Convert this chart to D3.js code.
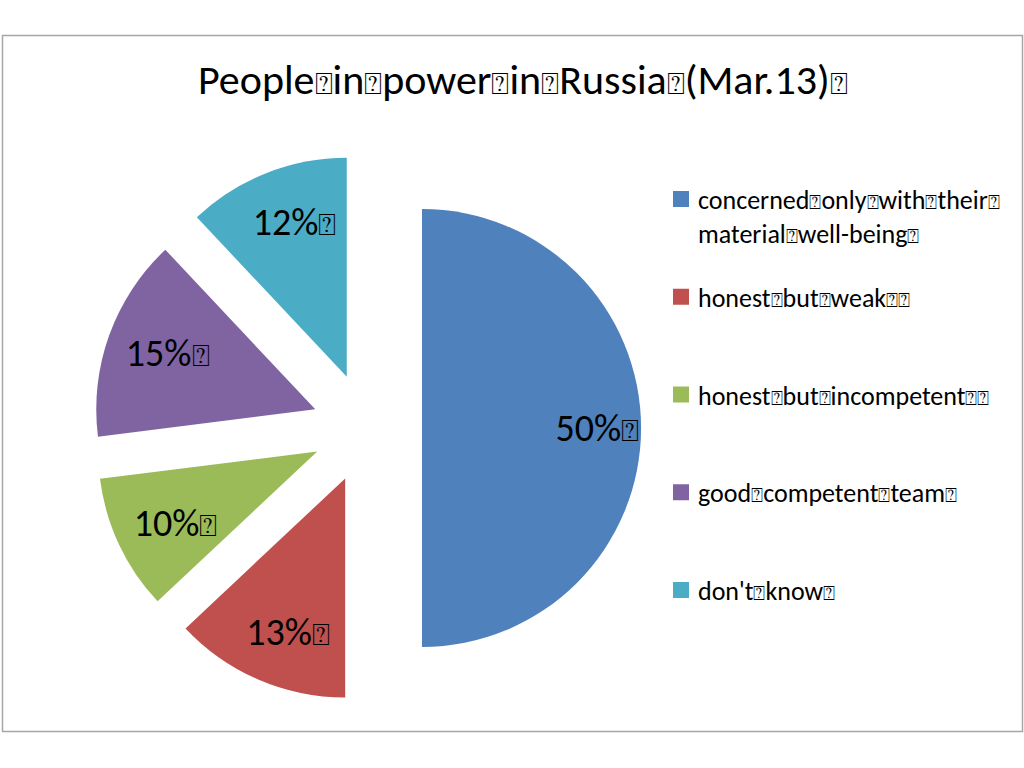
<!DOCTYPE html>
<html lang="en">
<head>
<meta charset="UTF-8">
<title>People in power in Russia (Mar.13)</title>
<script src="https://d3js.org/d3.v7.min.js"></script>
<style>
  body { margin: 0; background: #fff; }
  svg { display: block; font-family: Carlito, Calibri, Lato, sans-serif; }
  .box { font-family: "DejaVu Sans", sans-serif; font-weight: 300; }
</style>
</head>
<body>
<div id="chart"></div>
<script>
  // chart data
  const title = "People in power in Russia (Mar.13)";
  const categories = [
    "concerned only with their material well-being",
    "honest but weak",
    "honest but incompetent",
    "good competent team",
    "don't know"
  ];
  const legendLines = [
    ["concerned only with their", "material well-being"],
    ["honest but weak"],
    ["honest but incompetent"],
    ["good competent team"],
    ["don't know"]
  ];
  const values = [50, 13, 10, 15, 12];
  const colors = ["#4F81BD", "#C0504D", "#9BBB59", "#8064A2", "#4BACC6"];

  const W = 1024, H = 768;
  const cx = 367, cy = 428, radius = 219, explode = 55;

  const svg = d3.select("#chart").append("svg")
      .attr("width", W)
      .attr("height", H);

  // chart area border
  svg.append("rect")
      .attr("x", 2.5).attr("y", 35.5)
      .attr("width", 1020).attr("height", 696)
      .attr("fill", "#fff")
      .attr("stroke", "#a6a6a6")
      .attr("stroke-width", 1.5);

  // writes words with the missing-glyph boxes seen in the source
  const BOX = "\u2370";
  function boxedText(textSel, str, trailing, boxSize) {
    const words = str.split(" ");
    const addBox = () => textSel.append("tspan")
        .attr("class", "box")
        .attr("font-size", boxSize)
        .text(BOX);
    let first = null;
    words.forEach((w, i) => {
      const ts = textSel.append("tspan").text(w);
      if (!first) first = ts;
      if (i < words.length - 1) addBox();
    });
    for (let k = 0; k < trailing; k++) addBox();
    return first;
  }

  const titleText = svg.append("text")
      .attr("x", 198).attr("y", 94)
      .attr("font-size", 42)
      .attr("fill", "#000");
  boxedText(titleText, title, 1, "0.72em");

  // pie
  const pie = d3.pie().sort(null).value(d => d);
  const arcs = pie(values);
  const arc = d3.arc().innerRadius(0).outerRadius(radius);

  const g = svg.append("g").attr("transform", `translate(${cx},${cy})`);

  const offset = d => {
    const a = (d.startAngle + d.endAngle) / 2;
    return [Math.sin(a) * explode, -Math.cos(a) * explode];
  };

  const slices = g.selectAll(".slice")
      .data(arcs)
      .enter().append("g")
      .attr("class", "slice")
      .attr("transform", d => `translate(${offset(d)})`);

  slices.append("path")
      .attr("d", arc)
      .attr("fill", (d, i) => colors[i]);

  const labelArc = d3.arc().innerRadius(radius * 0.76).outerRadius(radius * 0.76);

  // value labels: the number is centred, the stray box trails after it
  slices.each(function(d) {
    const c = labelArc.centroid(d);
    const t = d3.select(this).append("text")
        .attr("y", c[1])
        .attr("dy", "0.35em")
        .attr("font-size", 38)
        .attr("fill", "#000");
    const num = boxedText(t, d.value + "%", 1, "0.78em");
    t.attr("x", c[0] - num.node().getComputedTextLength() / 2);
  });

  // legend
  const trailingBoxes = [1, 2, 2, 1, 1];
  const legend = svg.append("g").attr("transform", "translate(673,191)");
  const item = legend.selectAll(".item")
      .data(categories)
      .enter().append("g")
      .attr("class", "item")
      .attr("transform", (d, i) => `translate(0,${i * 97.75})`);

  item.append("rect")
      .attr("width", 16).attr("height", 16)
      .attr("fill", (d, i) => colors[i]);

  item.each(function(d, i) {
    const lines = legendLines[i];
    lines.forEach((line, j) => {
      const t = d3.select(this).append("text")
          .attr("x", 25).attr("y", 18 + j * 34)
          .attr("font-size", 26)
          .attr("fill", "#000");
      const trail = (j === lines.length - 1) ? trailingBoxes[i] : 1;
      boxedText(t, line, trail, "0.75em");
    });
  });
</script>
</body>
</html>
